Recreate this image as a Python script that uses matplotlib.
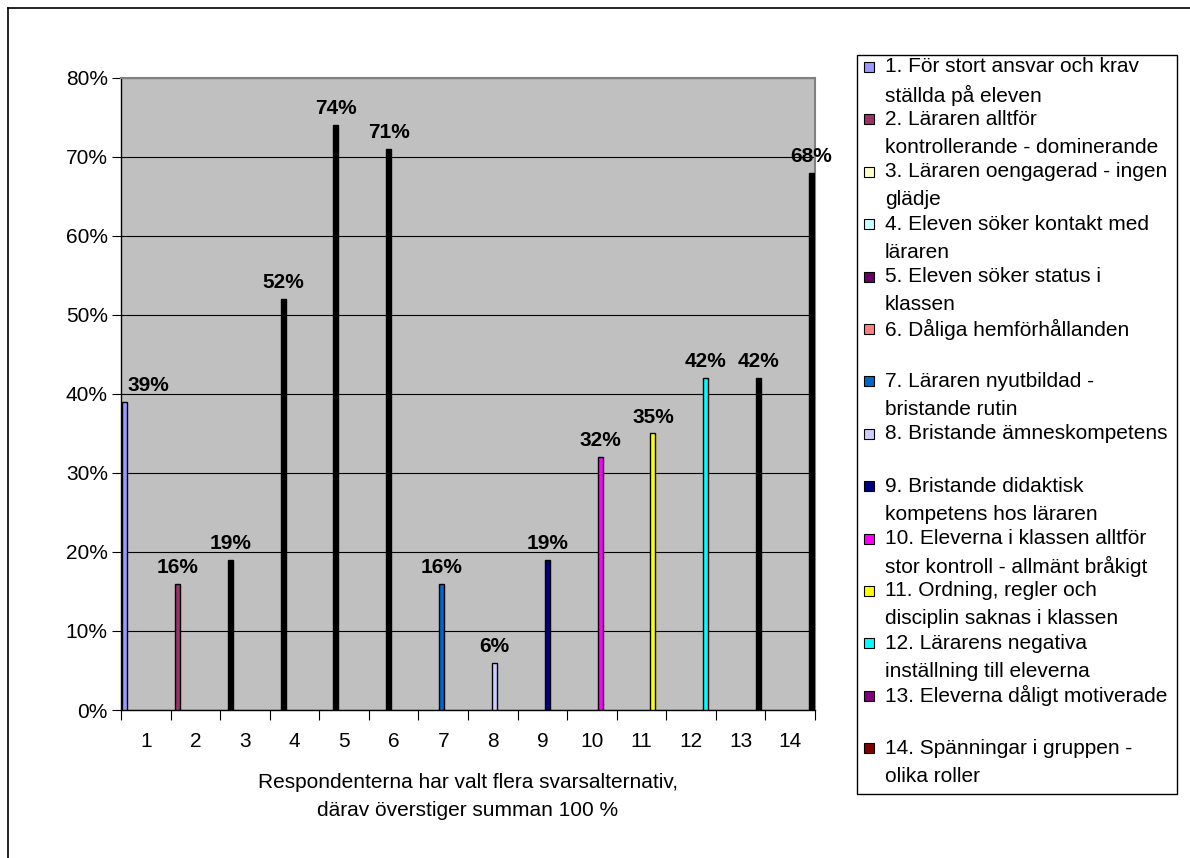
import matplotlib.pyplot as plt
from matplotlib.lines import Line2D
from matplotlib.patches import Rectangle

plt.rcParams["font.family"] = ["Liberation Sans", "DejaVu Sans"]

# Andel respondenter per orsak (%)
kategorier = [str(i) for i in range(1, 15)]
andel = [39, 16, 19, 52, 74, 71, 16, 6, 19, 32, 35, 42, 42, 68]

orsaker = [
    "1. För stort ansvar och krav\nställda på eleven",
    "2. Läraren alltför\nkontrollerande - dominerande",
    "3. Läraren oengagerad - ingen\nglädje",
    "4. Eleven söker kontakt med\nläraren",
    "5. Eleven söker status i\nklassen",
    "6. Dåliga hemförhållanden",
    "7. Läraren nyutbildad -\nbristande rutin",
    "8. Bristande ämneskompetens",
    "9. Bristande didaktisk\nkompetens hos läraren",
    "10. Eleverna i klassen alltför\nstor kontroll - allmänt bråkigt",
    "11. Ordning, regler och\ndisciplin saknas i klassen",
    "12. Lärarens negativa\ninställning till eleverna",
    "13. Eleverna dåligt motiverade",
    "14. Spänningar i gruppen -\nolika roller",
]

# seriefärger (Excel-paletten) och hur de smala staplarna faktiskt syns
farger = ["#9999FF", "#993366", "#FFFFCC", "#CCFFFF", "#660066", "#FF8080", "#0066CC",
          "#CCCCFF", "#000080", "#FF00FF", "#FFFF00", "#00FFFF", "#800080", "#800000"]
stapel_fyllning = ["#9999FF", "#993366", "black", "black", "black", "black", "#0066CC",
                   "#CCCCFF", "#000080", "#FF00FF", "#FFFF00", "#00FFFF", "black", "black"]

W, H = 1190, 858
fig = plt.figure(figsize=(W / 100, H / 100), dpi=100)
ax = fig.add_axes([121 / W, 1 - 710 / H, 694 / W, 632 / H])
ax.set_facecolor("#C0C0C0")

# en serie per kategori -> varje stapel hamnar i sin egen plats i klustret
n = len(andel)
gap = 0.076
slot = (1 - gap) / n
xs = [i + gap / 2 + (i + 0.5) * slot for i in range(n)]

ax.bar(xs, andel, width=0.1, color=stapel_fyllning, edgecolor="black",
       linewidth=1.0, zorder=3)

for i, (x, v) in enumerate(zip(xs, andel)):
    ax.annotate(f"{v}%", (x, v), xytext=(2 if i == 0 else 0, 5),
                textcoords="offset points", ha="left" if i == 0 else "center",
                va="bottom", fontsize=15, fontweight="bold", annotation_clip=False)

ax.set_xlim(0, n)
ax.set_ylim(0, 80)
ax.set_yticks(range(0, 81, 10))
ax.set_yticklabels([f"{t}%" for t in range(0, 81, 10)])
ax.set_xticks([i + 0.5 for i in range(n)])
ax.set_xticklabels(kategorier)
ax.set_xticks(range(n + 1), minor=True)
ax.tick_params(axis="x", which="major", length=0, pad=16, labelsize=15)
ax.tick_params(axis="x", which="minor", length=7, width=0.8, direction="out")
ax.tick_params(axis="y", length=6.5, width=0.8, pad=3, labelsize=15)

ax.set_axisbelow(True)
ax.yaxis.grid(True, color="black", linewidth=0.8)

for side in ("top", "right"):
    ax.spines[side].set_color("#808080")
    ax.spines[side].set_linewidth(1.5)
for side in ("left", "bottom"):
    ax.spines[side].set_color("black")
    ax.spines[side].set_linewidth(1.0)

ax.set_xlabel("Respondenterna har valt flera svarsalternativ,\ndärav överstiger summan 100 %",
              fontsize=15, linespacing=1.55, labelpad=16)

# förklaring ritad för hand: rutan till höger med färgrutor och radbrutna texter
leg_l, leg_r, leg_t, leg_b = 857, 1177, 55, 794
fig.add_artist(Rectangle((leg_l / W, 1 - leg_b / H), (leg_r - leg_l) / W, (leg_b - leg_t) / H,
                         transform=fig.transFigure, fill=False, edgecolor="black", linewidth=1.0))
steg = 52.4
for i, (text, c) in enumerate(zip(orsaker, farger)):
    yc = 67 + i * steg
    fig.add_artist(Rectangle((864 / W, 1 - (yc + 5) / H), 10 / W, 10 / H,
                             transform=fig.transFigure, facecolor=c,
                             edgecolor="black", linewidth=0.8))
    for j, rad in enumerate(text.split("\n")):
        fig.text(885 / W, 1 - (yc + j * 28) / H, rad, fontsize=15, va="center")

# ram runt diagramytan
fig.add_artist(Line2D([8 / W, 8 / W], [0, 1 - 8 / H], transform=fig.transFigure,
                      color="black", linewidth=1.2))
fig.add_artist(Line2D([8 / W, 1], [1 - 8 / H, 1 - 8 / H], transform=fig.transFigure,
                      color="black", linewidth=1.2))

fig.savefig("out.png", dpi=100)
